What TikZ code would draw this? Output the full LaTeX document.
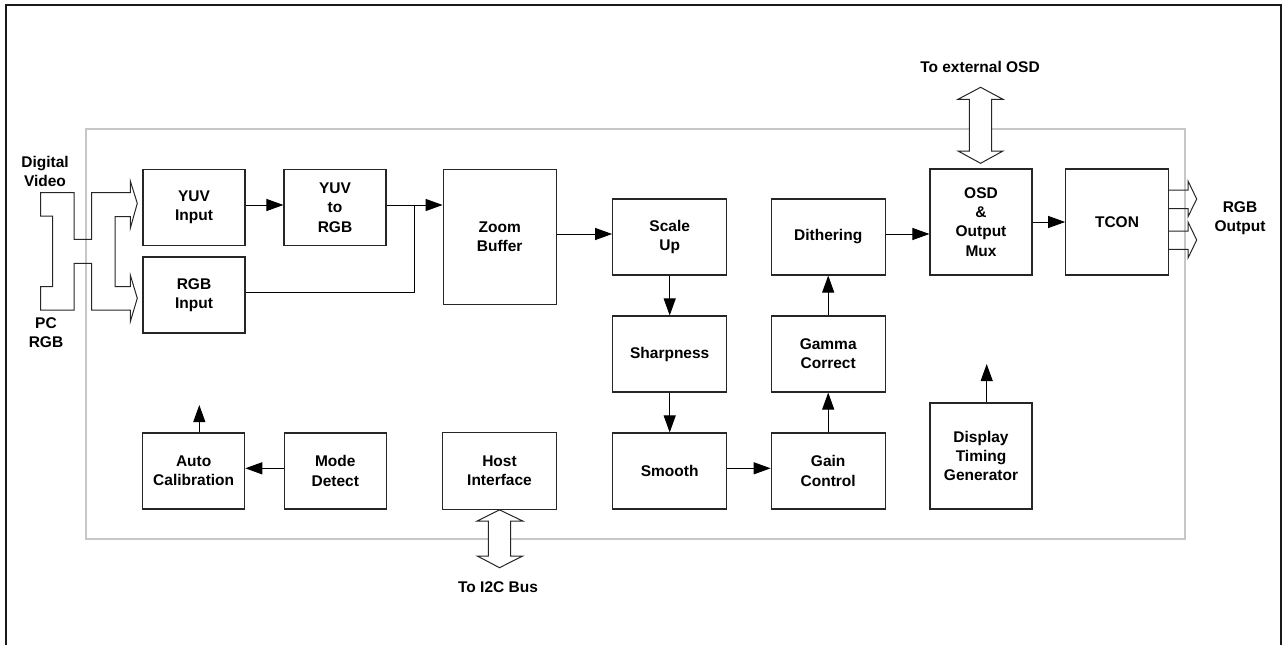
\documentclass[tikz,border=0pt]{standalone}
\usepackage{fontspec}
\setmainfont{Liberation Sans}
\usetikzlibrary{arrows.meta}
\begin{document}
\begin{tikzpicture}[x=1pt,y=-1pt,
  blk/.style={draw=black!85, line width=1.1pt, align=center, inner sep=0pt,
    font=\bfseries\fontsize{15.5}{19.3}\selectfont},
  sbox/.style={blk, minimum width=102pt, minimum height=76pt},
  wbox/.style={blk, minimum width=114pt, minimum height=76pt},
  lbl/.style={align=center, inner sep=0pt, font=\bfseries\fontsize{15.5}{19.3}\selectfont},
  conn/.style={-{Triangle[length=17pt,width=12pt]}, line width=1pt, draw=black},
  hollow/.style={draw=black!85, line width=1pt, line join=miter, fill=white},
  frame/.style={draw=black!90, line width=1.6pt},
  chip/.style={draw=black!22, line width=1.4pt}]
\useasboundingbox (0,0) rectangle (1283,645);
% outer frame (open at the bottom)
\draw[frame] (6,645) -- (6,5) -- (1281,5) -- (1281,645);
% chip boundary
\draw[chip] (86,129) rectangle (1185,539);

% blocks
\node[sbox] (yuvin) at (194,207.5) {YUV\\Input};
\node[sbox] (rgbin) at (194,295) {RGB\\Input};
\node[sbox] (yuv2rgb) at (335,207.5) {YUV\\to\\RGB};
\node[blk, minimum width=113pt, minimum height=135pt] (zoom) at (499.7,236.8) {Zoom\\Buffer};
\node[wbox] (scale) at (669.7,237) {Scale\\Up};
\node[wbox] (sharp) at (669.7,354) {Sharpness};
\node[wbox] (smooth) at (669.7,471) {Smooth};
\node[wbox] (dither) at (828.2,237) {Dithering};
\node[wbox] (gamma) at (828.2,354) {Gamma\\Correct};
\node[wbox] (gain) at (828.2,471) {Gain\\Control};
\node[blk, minimum width=102pt, minimum height=106pt] (osd) at (981,222) {OSD\\\&\\Output\\Mux};
\node[blk, minimum width=102.6pt, minimum height=106pt] (tcon) at (1117,222) {TCON};
\node[sbox] (auto) at (193.7,471) {Auto\\Calibration};
\node[sbox] (mode) at (335.3,471) {Mode\\Detect};
\node[blk, minimum width=113.6pt, minimum height=76.6pt] (host) at (499.5,471) {Host\\Interface};
\node[blk, minimum width=102pt, minimum height=106pt] (dtg) at (981,456) {Display\\Timing\\Generator};

% labels
\node[lbl] (dv) at (45,171.5) {Digital\\Video};
\node[lbl] (pc) at (46,333) {PC\\RGB};
\node[lbl] (extosd) at (980,67) {To external OSD};
\node[lbl] (rgbout) at (1240,218) {RGB\\Output};
\node[lbl] (i2c) at (498,587) {To I2C Bus};

% helper coordinates
\coordinate (ya) at (414,205);
\coordinate (yb) at (414,292.3);
\coordinate (yk) at (0,234);
\coordinate (ym) at (0,468.3);
\coordinate (autoup) at (199.3,405);
\coordinate (dtgup) at (986.7,364);

% connectors
\draw[conn] (yuvin.east |- ya) -- (yuv2rgb.west |- ya);
\draw[conn] (yuv2rgb.east |- ya) -- (zoom.west |- ya);
\draw[line width=1pt] (rgbin.east |- yb) -- (yb) -- (ya);
\draw[conn] (zoom.east |- yk) -- (scale.west |- yk);
\draw[conn] (scale) -- (sharp);
\draw[conn] (sharp) -- (smooth);
\draw[conn] (smooth.east |- ym) -- (gain.west |- ym);
\draw[conn] (gain) -- (gamma);
\draw[conn] (gamma) -- (dither);
\draw[conn] (dither.east |- yk) -- (osd.west |- yk);
\draw[conn] (osd) -- (tcon);
\draw[conn] (mode.west |- ym) -- (auto.east |- ym);
\draw[conn] (auto.north -| autoup) -- (autoup);
\draw[conn] (dtg.north -| dtgup) -- (dtgup);

% hollow input arrows (Digital Video / PC RGB)
\draw[hollow, fill=none] (40.7,192.7) -- (74,192.7) -- (74,239.3) -- (91.7,239.3) -- (91.7,192.7)
  -- (130.3,192.7) -- (130.3,181) -- (137.3,203.3) -- (130.3,228.3) -- (130.3,216.7)
  -- (115,216.7) -- (115,286.7) -- (130.3,286.7) -- (130.3,275) -- (137.3,298.3)
  -- (130.3,321.7) -- (130.3,310) -- (91.7,310) -- (91.7,263.3) -- (74,263.3)
  -- (74,310) -- (40.7,310) -- (40.7,286.7) -- (52.7,286.7) -- (52.7,216)
  -- (40.7,216) -- cycle;

% RGB output arrows
\draw[hollow, fill=none] (tcon.east |- 0,190) -- (1188,190) -- (1188,181) -- (1196.7,199)
  -- (1188,216.7) -- (1188,208.7) -- (tcon.east |- 0,208.7);
\draw[hollow, fill=none] (tcon.east |- 0,231) -- (1188,231) -- (1188,222) -- (1196.7,240)
  -- (1188,258) -- (1188,249.3) -- (tcon.east |- 0,249.3);

% bidirectional hollow arrows
\draw[hollow] (980.6,87.3) -- (1003,99.3) -- (991.7,99.3) -- (991.7,151) -- (1003,151)
  -- (980.6,163.3) -- (958,151) -- (969.3,151) -- (969.3,99.3) -- (958,99.3) -- cycle;
\draw[hollow] (host.south) -- (522.7,521) -- (510.7,521) -- (510.7,556) -- (522.7,556)
  -- (499.5,567.7) -- (477.3,556) -- (488.3,556) -- (488.3,521) -- (477.3,521) -- cycle;
\end{tikzpicture}
\end{document}
